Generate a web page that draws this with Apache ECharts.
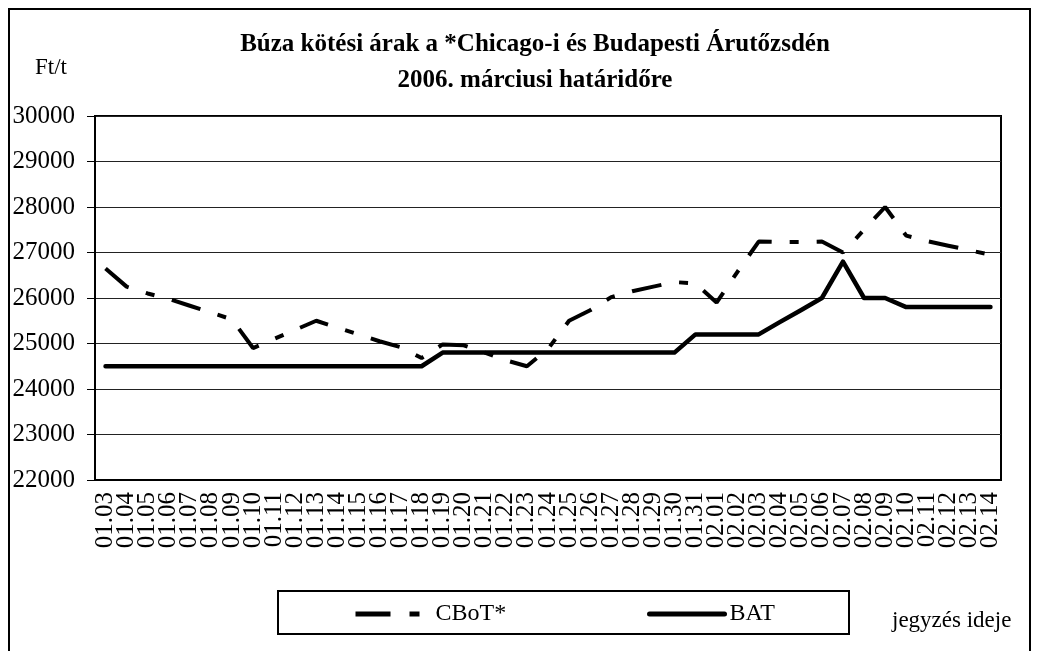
<!DOCTYPE html>
<html>
<head>
<meta charset="utf-8">
<title>Búza kötési árak</title>
<script src="https://cdn.jsdelivr.net/npm/echarts@6/dist/echarts.min.js"></script>
<style>
  html, body { margin: 0; padding: 0; background: #fff; }
  #chart { width: 1037px; height: 651px; }
</style>
</head>
<body>
<div id="chart"></div>
<script>
// jegyzési napok
var days = [
  '01.03', '01.04', '01.05', '01.06', '01.07', '01.08', '01.09', '01.10',
  '01.11', '01.12', '01.13', '01.14', '01.15', '01.16', '01.17', '01.18',
  '01.19', '01.20', '01.21', '01.22', '01.23', '01.24', '01.25', '01.26',
  '01.27', '01.28', '01.29', '01.30', '01.31', '02.01', '02.02', '02.03',
  '02.04', '02.05', '02.06', '02.07', '02.08', '02.09', '02.10', '02.11',
  '02.12', '02.13', '02.14'
];

// Chicago (CBoT*), Ft/t
var cbot = [
  26650, 26250, 26100, 25980, 25830, 25680, 25530, 24900,
  25100, 25300, 25500, 25350, 25200, 25050, 24920, 24680,
  24980, 24960, 24800, 24630, 24500, 24880, 25500, 25730,
  26020, 26150, 26250, 26350, 26320, 25900, 26580, 27240,
  27230, 27230, 27240, 27000, 27500, 28000, 27370, 27250,
  27150, 27050, 26950
];

// Budapest (BAT), Ft/t
var bat = [
  24500, 24500, 24500, 24500, 24500, 24500, 24500, 24500,
  24500, 24500, 24500, 24500, 24500, 24500, 24500, 24500,
  24800, 24800, 24800, 24800, 24800, 24800, 24800, 24800,
  24800, 24800, 24800, 24800, 25200, 25200, 25200, 25200,
  25470, 25730, 26000, 26800, 26000, 26000, 25800, 25800,
  25800, 25800, 25800
];

var yTicks = { min: 22000, max: 30000, step: 1000 };

var serif = 'Liberation Serif, Times New Roman, serif';
var cbotDash = [30, 18, 9, 18];

var chart = echarts.init(document.getElementById('chart'), null, { renderer: 'canvas' });

var option = {
  animation: false,
  backgroundColor: '#fff',
  textStyle: { fontFamily: serif, color: '#000' },
  grid: {
    left: 95, right: 36, top: 116, bottom: 171,
    show: true, borderColor: '#000', borderWidth: 2,
    outerBoundsMode: 'none'
  },
  xAxis: {
    type: 'category',
    data: days,
    boundaryGap: true,
    axisLine: { lineStyle: { color: '#000', width: 2 } },
    axisTick: { length: 6, lineStyle: { color: '#555' } },
    axisLabel: {
      interval: 0, rotate: 90, margin: 12,
      fontFamily: serif, fontSize: 25, color: '#000'
    }
  },
  yAxis: {
    type: 'value',
    min: yTicks.min, max: yTicks.max, interval: yTicks.step,
    axisLine: { show: true, lineStyle: { color: '#000', width: 2 } },
    axisTick: { show: true, length: 8, lineStyle: { color: '#000' } },
    axisLabel: {
      margin: 20, fontFamily: serif, fontSize: 25, color: '#000',
      formatter: function(v){ return String(v); }
    },
    splitLine: { lineStyle: { color: '#222', width: 1 } }
  },
  legend: [{
    data: ['CBoT*'],
    left: 353, top: 602,
    itemWidth: 75, itemHeight: 14,
    padding: 0,
    itemStyle: { color: 'transparent', borderWidth: 0 },
    lineStyle: { type: [35, 19, 10, 30], width: 5, color: '#000' },
    textStyle: { fontFamily: serif, fontSize: 24, color: '#000' }
  }, {
    data: ['BAT'],
    left: 647, top: 602,
    itemWidth: 75, itemHeight: 14,
    padding: 0,
    itemStyle: { color: 'transparent', borderWidth: 0 },
    lineStyle: { type: 'solid', width: 5, color: '#000' },
    textStyle: { fontFamily: serif, fontSize: 24, color: '#000' }
  }],
  series: [{
    name: 'CBoT*',
    type: 'line',
    data: cbot,
    symbol: 'none',
    z: 3,
    lineStyle: { color: '#000', width: 4, type: cbotDash, cap: 'butt' }
  }, {
    name: 'BAT',
    type: 'line',
    data: bat,
    symbol: 'none',
    z: 2,
    lineStyle: { color: '#000', width: 4.5, type: 'solid', cap: 'round', join: 'round' }
  }],
  graphic: [{
    type: 'rect',
    shape: { x: 9, y: 9, width: 1021, height: 700 },
    style: { fill: 'none', stroke: '#000', lineWidth: 2 },
    silent: true
  }, {
    type: 'rect',
    shape: { x: 278, y: 591, width: 571, height: 43 },
    style: { fill: 'none', stroke: '#000', lineWidth: 2 },
    silent: true
  }, {
    type: 'text',
    x: 535, y: 45,
    style: {
      text: 'Búza kötési árak a *Chicago-i és Budapesti Árutőzsdén',
      font: 'bold 25px ' + serif, fill: '#000',
      textAlign: 'center', textVerticalAlign: 'middle'
    }
  }, {
    type: 'text',
    x: 535, y: 81,
    style: {
      text: '2006. márciusi határidőre',
      font: 'bold 25px ' + serif, fill: '#000',
      textAlign: 'center', textVerticalAlign: 'middle'
    }
  }, {
    type: 'text',
    x: 35, y: 68,
    style: {
      text: 'Ft/t', font: '23px ' + serif, fill: '#000',
      textAlign: 'left', textVerticalAlign: 'middle'
    }
  }, {
    type: 'text',
    x: 892, y: 621,
    style: {
      text: 'jegyzés ideje', font: '23px ' + serif, fill: '#000',
      textAlign: 'left', textVerticalAlign: 'middle'
    }
  }]
};

chart.setOption(option);
</script>
</body>
</html>
